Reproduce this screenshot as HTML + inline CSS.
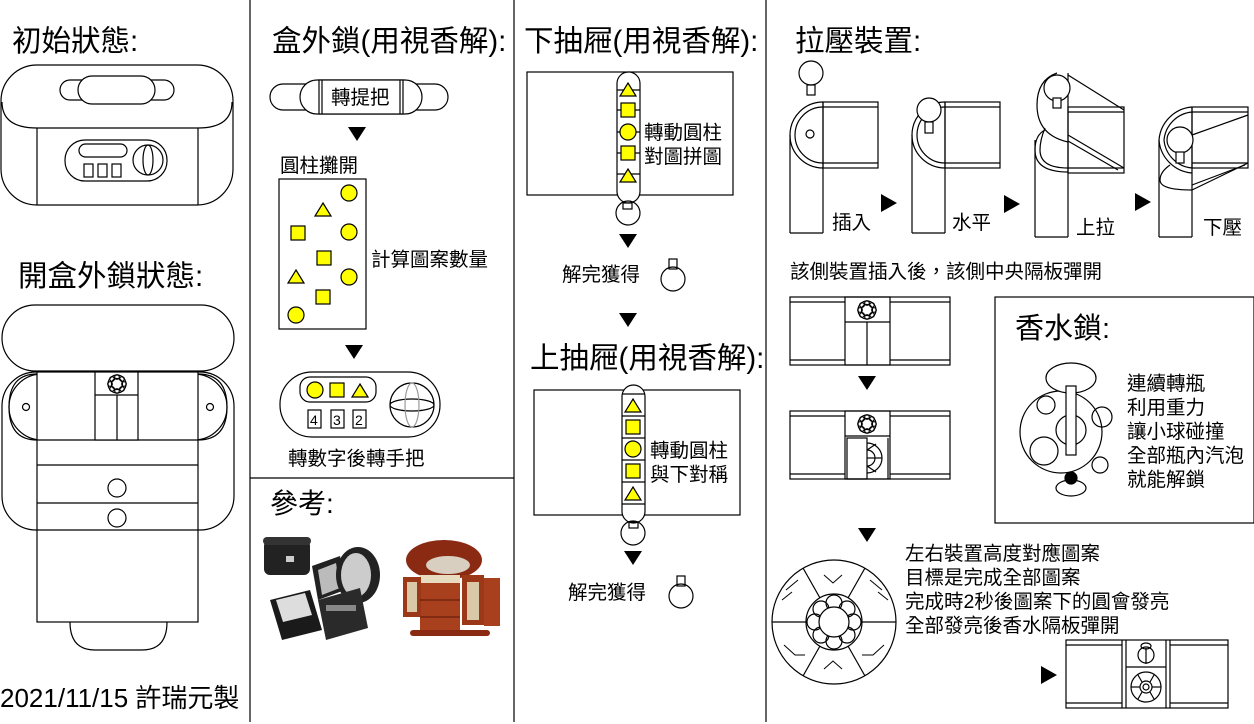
<!DOCTYPE html>
<html><head><meta charset="utf-8"><style>
html,body{margin:0;padding:0;background:#fff}
svg{display:block}
text{font-family:"Liberation Sans","Noto Sans CJK TC",sans-serif;fill:#000}
</style></head><body>
<svg width="1254" height="724" viewBox="0 0 1254 724" xmlns="http://www.w3.org/2000/svg" fill="none" stroke="#000" stroke-width="1.2">
<defs>
<g id="tri"><polygon points="-9,-7 9,-7 0,7" fill="#000" stroke="none"/></g>
<g id="tr"><polygon points="-8,-9 8,0 -8,9" fill="#000" stroke="none"/></g>
<g id="ycirc"><circle r="8" fill="#ff0" stroke="#000"/></g>
<g id="ysq"><rect x="-7" y="-7" width="14" height="14" fill="#ff0" stroke="#000"/></g>
<g id="ytri"><polygon points="0,-7 8,6 -8,6" fill="#ff0" stroke="#000"/></g>
<g id="ring"><circle r="9"/><circle r="5.5"/><circle cx="0" cy="-7" r="2.3"/><circle cx="0" cy="7" r="2.3"/><circle cx="-7" cy="0" r="2.3"/><circle cx="7" cy="0" r="2.3"/><circle cx="5" cy="5" r="2.3"/><circle cx="-5" cy="5" r="2.3"/><circle cx="5" cy="-5" r="2.3"/><circle cx="-5" cy="-5" r="2.3"/></g>
<g id="knob"><rect x="-4" y="-20" width="8" height="10"/><circle cx="0" cy="0" r="12"/></g>
</defs>

<line x1="250" y1="0" x2="250" y2="722"/>
<line x1="514" y1="0" x2="514" y2="722"/>
<line x1="766" y1="0" x2="766" y2="722"/>
<line x1="250" y1="478" x2="514" y2="478"/>

<g stroke="none">
<text x="12" y="51" font-size="29.5">初始狀態:</text>
<text x="18" y="286" font-size="29.5">開盒外鎖狀態:</text>
<text x="272" y="51" font-size="29.5">盒外鎖(用視香解):</text>
<text x="524" y="51" font-size="29.5">下抽屜(用視香解):</text>
<text x="795" y="51" font-size="29.5">拉壓裝置:</text>
<text x="530" y="368" font-size="29.5">上抽屜(用視香解):</text>
<text x="270" y="513" font-size="28">參考:</text>
<text x="0" y="707" font-size="26">2021/11/15 許瑞元製</text>
</g>

<!-- Initial box -->
<rect x="1" y="65" width="232" height="140" rx="36"/>
<path d="M2,102 Q2,128 37,128 L198,128 Q232,128 232,102"/>
<line x1="37" y1="128" x2="37" y2="205"/><line x1="198" y1="128" x2="198" y2="205"/>
<rect x="60" y="80" width="114" height="20" rx="10"/>
<rect x="78" y="76" width="77" height="28" rx="14" fill="#fff"/>
<rect x="65" y="140" width="102" height="41" rx="20"/>
<rect x="79" y="144" width="48" height="13" rx="6.5"/>
<rect x="84" y="164" width="9" height="13"/><rect x="98" y="164" width="9" height="13"/><rect x="112" y="164" width="9" height="13"/>
<circle cx="148" cy="160" r="15"/><ellipse cx="148" cy="160" rx="5" ry="15"/>

<!-- Open state -->
<rect x="2" y="305" width="232" height="66" rx="33"/>
<rect x="2" y="372" width="232" height="158" rx="34"/>
<rect x="9" y="374" width="218" height="66" rx="33"/>
<rect x="37" y="372" width="161" height="250" fill="#fff"/>
<path d="M37,374 Q9,374 9,407 Q9,440 37,440"/><path d="M198,374 Q227,374 227,407 Q227,440 198,440"/>
<line x1="37" y1="440" x2="198" y2="440"/>
<line x1="37" y1="465" x2="198" y2="465"/>
<line x1="37" y1="503" x2="198" y2="503"/>
<line x1="37" y1="530" x2="198" y2="530"/>
<rect x="95" y="372" width="43" height="68" fill="#fff"/>
<line x1="95" y1="395" x2="138" y2="395"/><line x1="117" y1="395" x2="117" y2="440"/>
<use href="#ring" x="117" y="384"/>
<circle cx="26" cy="407" r="3.5"/><circle cx="210" cy="407" r="3.5"/>
<circle cx="117" cy="488" r="9"/><circle cx="117" cy="518" r="9"/>
<path d="M70,622 Q70,650 95,650 L142,650 Q167,650 167,622"/>

<!-- Col 2 -->
<rect x="270" y="84" width="178" height="26" rx="13"/>
<rect x="300" y="80" width="122" height="34" rx="17" fill="#fff"/>
<rect x="319" y="80" width="84" height="34" fill="#fff"/>
<line x1="322" y1="80" x2="322" y2="114"/><line x1="400" y1="80" x2="400" y2="114"/>
<text x="331" y="104" font-size="19.5" stroke="none">轉提把</text>
<use href="#tri" x="357" y="134"/>
<text x="280" y="172" font-size="19.5" stroke="none">圓柱攤開</text>
<rect x="279" y="179" width="87" height="150"/>
<use href="#ycirc" x="349" y="193"/><use href="#ycirc" x="349" y="232"/><use href="#ycirc" x="349" y="277"/><use href="#ycirc" x="296" y="315"/>
<use href="#ytri" x="323" y="210"/><use href="#ytri" x="296" y="277"/>
<use href="#ysq" x="298" y="233"/><use href="#ysq" x="324" y="258"/><use href="#ysq" x="323" y="297"/>
<text x="371" y="266" font-size="19.5" stroke="none">計算圖案數量</text>
<use href="#tri" x="354" y="352"/>
<rect x="280" y="372" width="160" height="65" rx="32"/>
<rect x="300" y="377" width="76" height="25" rx="10"/>
<use href="#ycirc" x="315" y="390"/><use href="#ysq" x="337" y="390"/><use href="#ytri" x="360" y="391"/>
<rect x="308" y="410" width="13" height="18"/><rect x="331" y="410" width="13" height="18"/><rect x="353" y="410" width="13" height="18"/>
<g stroke="none" font-size="14" font-family="Liberation Serif"><text x="310" y="425">4</text><text x="333" y="425">3</text><text x="355" y="425">2</text></g>
<circle cx="412" cy="405" r="22"/><ellipse cx="412" cy="405" rx="22" ry="6"/><ellipse cx="412" cy="405" rx="7" ry="22" stroke="#999"/>
<text x="288" y="465" font-size="19.5" stroke="none">轉數字後轉手把</text>

<!-- reference photos -->
<g stroke="none">
<rect x="264" y="540" width="46" height="35" rx="6" fill="#222"/>
<rect x="263" y="537" width="48" height="8" rx="4" fill="#333"/>
<rect x="286" y="556" width="8" height="6" fill="#ccc"/>
<path d="M270,600 L310,590 L322,630 L282,640 Z" fill="#1a1a1a"/>
<path d="M276,600 L305,593 L312,615 L283,622 Z" fill="#ddd"/>
<path d="M312,566 L340,556 L345,590 L318,600 Z" fill="#222"/>
<path d="M318,570 L336,563 L340,588 L322,595 Z" fill="#bbb"/>
<ellipse cx="358" cy="575" rx="22" ry="28" fill="#222"/>
<ellipse cx="356" cy="575" rx="15" ry="22" fill="#ccc"/>
<path d="M318,600 L360,588 L368,628 L326,640 Z" fill="#2a2a2a"/>
<rect x="326" y="605" width="30" height="6" fill="#888"/>
<ellipse cx="444" cy="560" rx="38" ry="20" fill="#8b2a12"/>
<ellipse cx="448" cy="565" rx="22" ry="9" fill="#d8cfc0"/>
<rect x="420" y="580" width="40" height="55" fill="#a8401e"/>
<rect x="420" y="575" width="40" height="8" fill="#e8dcc0"/>
<rect x="403" y="577" width="18" height="40" fill="#9a3818"/>
<rect x="407" y="582" width="10" height="30" fill="#d9c9a8"/>
<rect x="462" y="575" width="22" height="50" fill="#9a3818"/>
<rect x="484" y="578" width="16" height="48" fill="#a8401e"/>
<rect x="467" y="582" width="12" height="38" fill="#d9c9a8"/>
<line x1="420" y1="600" x2="460" y2="600" stroke="#6a1f0c"/>
<line x1="420" y1="617" x2="460" y2="617" stroke="#6a1f0c"/>
<rect x="410" y="630" width="80" height="6" rx="3" fill="#8b2a12"/>
</g>

<!-- Col 3 -->
<rect x="527" y="72" width="206" height="123"/>
<rect x="617" y="72" width="23" height="131" rx="11.5" fill="#fff"/>
<line x1="617" y1="90" x2="640" y2="90"/><line x1="617" y1="110" x2="640" y2="110"/><line x1="617" y1="132" x2="640" y2="132"/><line x1="617" y1="153" x2="640" y2="153"/><line x1="617" y1="174" x2="640" y2="174"/>
<use href="#ytri" x="628" y="90"/><use href="#ysq" x="628" y="110"/><use href="#ycirc" x="628" y="132"/><use href="#ysq" x="628" y="153"/><use href="#ytri" x="628" y="176"/>
<text x="644" y="139" font-size="19.5" stroke="none">轉動圓柱</text>
<text x="644" y="163" font-size="19.5" stroke="none">對圖拼圖</text>
<rect x="623" y="203" width="9" height="6"/><circle cx="628" cy="213" r="12"/>
<use href="#tri" x="628" y="241"/>
<text x="562" y="281" font-size="19.5" stroke="none">解完獲得</text>
<use href="#knob" x="673" y="279"/>
<use href="#tri" x="628" y="320"/>
<rect x="534" y="390" width="206" height="125"/>
<rect x="622" y="385" width="23" height="138" rx="11.5" fill="#fff"/>
<line x1="622" y1="394" x2="645" y2="394"/><line x1="622" y1="416" x2="645" y2="416"/><line x1="622" y1="438" x2="645" y2="438"/><line x1="622" y1="460" x2="645" y2="460"/><line x1="622" y1="482" x2="645" y2="482"/><line x1="622" y1="504" x2="645" y2="504"/>
<use href="#ytri" x="633" y="406"/><use href="#ysq" x="633" y="427"/><use href="#ycirc" x="633" y="449"/><use href="#ysq" x="633" y="471"/><use href="#ytri" x="633" y="494"/>
<text x="650" y="457" font-size="19.5" stroke="none">轉動圓柱</text>
<text x="650" y="481" font-size="19.5" stroke="none">與下對稱</text>
<rect x="629" y="522" width="9" height="6"/><circle cx="633" cy="533" r="12"/>
<use href="#tri" x="633" y="558"/>
<text x="568" y="599" font-size="19.5" stroke="none">解完獲得</text>
<use href="#knob" x="681" y="596"/>

<!-- Col 4 steps -->
<circle cx="811" cy="73" r="12"/><rect x="807" y="85" width="8" height="10"/>
<line x1="790" y1="135" x2="790" y2="233"/><line x1="823" y1="102" x2="823" y2="233"/><line x1="790" y1="233" x2="823" y2="233"/>
<path d="M823,102 A33,33 0 0 0 790,135 A33,33 0 0 0 823,168"/>
<path d="M823,107 A28,28 0 0 0 795,135 A28,28 0 0 0 823,163"/>
<rect x="823" y="102" width="55" height="66"/><line x1="823" y1="107" x2="878" y2="107"/><line x1="823" y1="163" x2="878" y2="163"/>
<circle cx="810" cy="134" r="4"/>
<text x="832" y="229" font-size="19.5" stroke="none">插入</text>
<use href="#tr" x="889" y="203"/>
<line x1="912" y1="135" x2="912" y2="233"/><line x1="945" y1="102" x2="945" y2="233"/><line x1="912" y1="233" x2="945" y2="233"/>
<path d="M945,102 A33,33 0 0 0 912,135 A33,33 0 0 0 945,168"/>
<path d="M945,107 A28,28 0 0 0 917,135 A28,28 0 0 0 945,163"/>
<rect x="945" y="102" width="55" height="66"/><line x1="945" y1="107" x2="1000" y2="107"/><line x1="945" y1="163" x2="1000" y2="163"/>
<circle cx="929" cy="110" r="12" fill="#fff"/><rect x="925" y="122" width="8" height="11" fill="#fff"/>
<text x="952" y="229" font-size="19.5" stroke="none">水平</text>
<use href="#tr" x="1012" y="204"/>
<line x1="1035" y1="140" x2="1035" y2="237"/><line x1="1068" y1="73" x2="1068" y2="237"/><line x1="1035" y1="237" x2="1068" y2="237"/>
<path d="M1057,73 Q1037,80 1037,105 Q1037,135 1068,142"/>
<path d="M1045,130 Q1035,135 1035,150 Q1035,172 1068,172"/>
<path d="M1045,128 Q1040,140 1040,150 Q1040,168 1068,168"/>
<rect x="1068" y="107" width="56" height="66"/><line x1="1068" y1="112" x2="1124" y2="112"/><line x1="1068" y1="168" x2="1124" y2="168"/>
<line x1="1068" y1="75" x2="1124" y2="110"/>
<line x1="1068" y1="135" x2="1124" y2="168"/><line x1="1068" y1="141" x2="1118" y2="170"/>
<circle cx="1057" cy="88" r="13" fill="#fff"/><rect x="1053" y="98" width="8" height="10" fill="#fff"/>
<text x="1076" y="234" font-size="19.5" stroke="none">上拉</text>
<use href="#tr" x="1143" y="202"/>
<line x1="1159" y1="140" x2="1159" y2="237"/><line x1="1192" y1="107" x2="1192" y2="237"/><line x1="1159" y1="237" x2="1192" y2="237"/>
<path d="M1192,107 A36,36 0 0 0 1159,140 A36,36 0 0 0 1192,173"/>
<path d="M1192,112 A31,31 0 0 0 1164,140 A31,31 0 0 0 1192,168"/>
<path d="M1170,165 Q1160,172 1160,180 Q1160,190 1192,190"/>
<rect x="1192" y="107" width="56" height="61"/><line x1="1192" y1="112" x2="1248" y2="112"/><line x1="1192" y1="163" x2="1248" y2="163"/>
<line x1="1192" y1="135" x2="1248" y2="115"/><line x1="1192" y1="190" x2="1248" y2="163"/><line x1="1192" y1="185" x2="1245" y2="165"/>
<circle cx="1180" cy="140" r="13" fill="#fff"/><rect x="1176" y="152" width="8" height="11" fill="#fff"/>
<text x="1203" y="234" font-size="19.5" stroke="none">下壓</text>

<text x="790" y="278" font-size="19.5" stroke="none">該側裝置插入後，該側中央隔板彈開</text>

<rect x="790" y="297" width="160" height="68"/>
<line x1="790" y1="302" x2="845" y2="302"/><line x1="890" y1="302" x2="950" y2="302"/>
<line x1="790" y1="360" x2="845" y2="360"/><line x1="890" y1="360" x2="950" y2="360"/>
<rect x="845" y="297" width="45" height="68"/>
<line x1="845" y1="322" x2="890" y2="322"/><line x1="867" y1="322" x2="867" y2="365"/>
<use href="#ring" x="867" y="310"/>
<use href="#tri" x="867" y="383"/>
<rect x="790" y="411" width="160" height="68"/>
<line x1="790" y1="416" x2="845" y2="416"/><line x1="890" y1="416" x2="950" y2="416"/>
<line x1="790" y1="474" x2="845" y2="474"/><line x1="890" y1="474" x2="950" y2="474"/>
<rect x="845" y="411" width="45" height="68"/>
<line x1="845" y1="436" x2="890" y2="436"/>
<rect x="847" y="438" width="20" height="41"/><line x1="888" y1="438" x2="888" y2="479"/>
<path d="M867,443 A15,15 0 0 1 867,473"/><path d="M867,450 A8,8 0 0 1 867,466"/>
<line x1="867" y1="458" x2="882" y2="458"/><line x1="867" y1="450" x2="876" y2="444"/><line x1="867" y1="466" x2="876" y2="472"/>
<use href="#ring" x="867" y="424"/>
<use href="#tri" x="867" y="535"/>

<rect x="995" y="297" width="259" height="226"/>
<text x="1015" y="338" font-size="29" stroke="none">香水鎖:</text>
<circle cx="1061" cy="432" r="41"/>
<ellipse cx="1071" cy="378" rx="25" ry="15" fill="#fff"/>
<circle cx="1071" cy="430" r="15"/>
<rect x="1066" y="386" width="10" height="69" fill="#fff"/>
<circle cx="1046" cy="405" r="9"/><circle cx="1102" cy="417" r="10"/><circle cx="1044" cy="451" r="14"/><circle cx="1100" cy="465" r="8"/>
<ellipse cx="1071" cy="488" rx="15" ry="8" fill="#fff"/>
<circle cx="1071" cy="478" r="6" fill="#000"/>
<g stroke="none" font-size="19.5">
<text x="1127" y="390">連續轉瓶</text>
<text x="1127" y="414">利用重力</text>
<text x="1127" y="438">讓小球碰撞</text>
<text x="1127" y="462">全部瓶內汽泡</text>
<text x="1127" y="486">就能解鎖</text>
<text x="905" y="560">左右裝置高度對應圖案</text>
<text x="905" y="584">目標是完成全部圖案</text>
<text x="905" y="608">完成時2秒後圖案下的圓會發亮</text>
<text x="905" y="632">全部發亮後香水隔板彈開</text>
</g>

<circle cx="834" cy="622" r="62"/>
<circle cx="834" cy="622" r="28"/>
<line x1="772" y1="622" x2="806" y2="622"/><line x1="862" y1="622" x2="896" y2="622"/>
<line x1="803" y1="568" x2="820" y2="598"/><line x1="865" y1="568" x2="848" y2="598"/>
<line x1="803" y1="676" x2="820" y2="646"/><line x1="865" y1="676" x2="848" y2="646"/>
<g>
<circle cx="834" cy="603" r="8"/><circle cx="834" cy="641" r="8"/><circle cx="815" cy="622" r="8"/><circle cx="853" cy="622" r="8"/>
<circle cx="821" cy="609" r="8"/><circle cx="847" cy="609" r="8"/><circle cx="821" cy="635" r="8"/><circle cx="847" cy="635" r="8"/>
<circle cx="834" cy="622" r="15" fill="#fff"/>
</g>
<g stroke-width="1">
<path d="M824,575 L833,583 L842,575"/><path d="M824,669 L833,661 L842,669"/>
<path d="M786,590 L798,580"/><path d="M782,600 L792,592"/>
<path d="M870,580 L882,590"/><path d="M878,592 L888,600"/>
<path d="M784,645 L795,655 L805,655"/><path d="M862,655 L873,655 L884,645"/>
</g>
<use href="#tr" x="1049" y="675"/>

<rect x="1066" y="640" width="162" height="68"/>
<line x1="1066" y1="645" x2="1122" y2="645"/><line x1="1170" y1="645" x2="1228" y2="645"/>
<line x1="1066" y1="703" x2="1122" y2="703"/><line x1="1170" y1="703" x2="1228" y2="703"/>
<line x1="1122" y1="640" x2="1122" y2="708"/><line x1="1126" y1="640" x2="1126" y2="708"/>
<line x1="1166" y1="640" x2="1166" y2="708"/><line x1="1170" y1="640" x2="1170" y2="708"/>
<line x1="1126" y1="667" x2="1166" y2="667"/>
<circle cx="1146" cy="655" r="8"/><ellipse cx="1146" cy="646" rx="5" ry="3"/><line x1="1146" y1="648" x2="1146" y2="664"/>
<circle cx="1146" cy="687" r="15"/><circle cx="1146" cy="687" r="6"/><circle cx="1146" cy="687" r="3"/>
<line x1="1131" y1="687" x2="1140" y2="687"/><line x1="1152" y1="687" x2="1161" y2="687"/>
<line x1="1138" y1="675" x2="1142" y2="682"/><line x1="1154" y1="675" x2="1150" y2="682"/>
<line x1="1138" y1="699" x2="1142" y2="692"/><line x1="1154" y1="699" x2="1150" y2="692"/>
</svg>
</body></html>
